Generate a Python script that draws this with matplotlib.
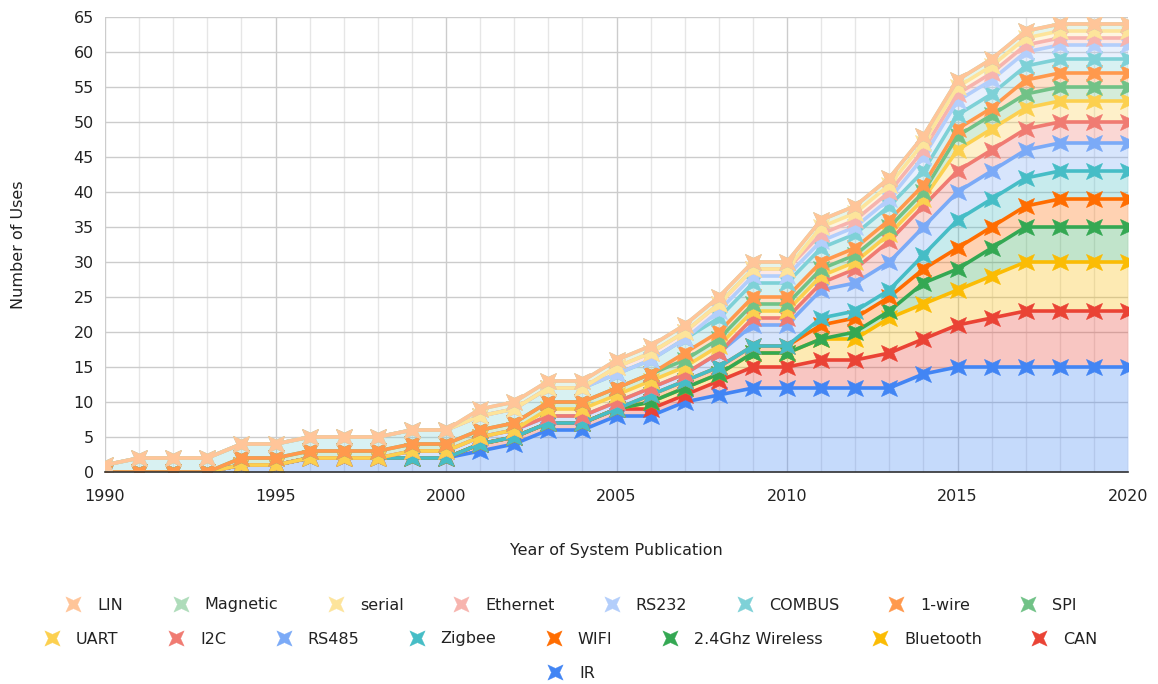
import matplotlib
matplotlib.use("Agg")
import matplotlib.pyplot as plt
import numpy as np
from matplotlib.lines import Line2D
from matplotlib.path import Path
from matplotlib.ticker import MultipleLocator

years = list(range(1990, 2021))

# series values (stacked bottom -> top)
ir       = [0,0,0,0,1,1,2,2,2,2,2,3,4,6,6,8,8,10,11,12,12,12,12,12,14,15,15,15,15,15,15]
can      = [0,0,0,0,0,0,0,0,0,0,0,1,1,1,1,1,1,1,2,3,3,4,4,5,5,6,7,8,8,8,8]
bluetooth= [0,0,0,0,0,0,0,0,0,0,0,0,0,0,0,0,1,1,1,2,2,3,3,5,5,5,6,7,7,7,7]
wireless = [0,0,0,0,0,0,0,0,0,0,0,0,0,0,0,0,0,0,0,0,0,0,1,1,3,3,4,5,5,5,5]
wifi     = [0,0,0,0,0,0,0,0,0,0,0,0,0,0,0,0,1,1,1,1,1,2,2,2,2,3,3,3,4,4,4]
zigbee   = [0,0,0,0,0,0,0,0,0,0,0,0,0,0,0,0,0,0,0,0,0,1,1,1,2,4,4,4,4,4,4]
rs485    = [0,0,0,0,0,0,0,0,0,1,1,1,1,1,1,1,1,1,2,3,3,4,4,4,4,4,4,4,4,4,4]
i2c      = [0,0,0,0,0,0,0,0,0,0,0,0,0,0,0,0,0,0,0,1,1,1,2,3,3,3,3,3,3,3,3]
uart     = [0,0,0,0,0,0,0,0,0,0,0,0,0,1,1,1,1,1,1,1,1,1,1,1,1,3,3,3,3,3,3]
spi      = [0,0,0,0,1,1,1,1,1,1,1,1,1,1,1,1,1,1,1,1,1,1,1,1,1,2,2,2,2,2,2]
onewire  = [0,0,0,0,0,0,0,0,0,0,0,0,0,0,0,0,0,1,1,1,1,1,1,1,1,1,1,2,2,2,2]
combus   = [1,2,2,2,2,2,2,2,2,2,2,2,2,2,2,2,2,2,2,2,2,2,2,2,2,2,2,2,2,2,2]
rs232    = [0,0,0,0,0,0,0,0,0,0,0,0,0,0,0,0,0,0,1,1,1,1,1,1,2,2,2,2,2,2,2]
ethernet = [0,0,0,0,0,0,0,0,0,0,0,0,0,0,0,1,1,1,1,1,1,1,1,1,1,1,1,1,1,1,1]
serial   = [0,0,0,0,0,0,0,0,0,0,0,0,0,0,0,0,0,0,0,0,0,1,1,1,1,1,1,1,1,1,1]
magnetic = [0,0,0,0,0,0,0,0,0,0,0,1,1,1,1,1,1,1,1,1,1,1,1,1,1,1,1,1,1,1,1]
lin      = [0,0,0,0,0,0,0,0,0,0,0,0,0,0,0,0,0,0,0,0,0,0,0,0,0,0,0,0,0,0,0]

names = ["IR", "CAN", "Bluetooth", "2.4Ghz Wireless", "WIFI", "Zigbee", "RS485",
         "I2C", "UART", "SPI", "1-wire", "COMBUS", "RS232", "Ethernet", "serial",
         "Magnetic", "LIN"]
values = [ir, can, bluetooth, wireless, wifi, zigbee, rs485, i2c, uart, spi,
          onewire, combus, rs232, ethernet, serial, magnetic, lin]
colors = ["#4285F4", "#EA4335", "#FBBC04", "#34A853", "#FF6D01", "#46BDC6",
          "#7BAAF7", "#F07B72", "#FCD04F", "#71C287", "#FF994D", "#7ED1D7",
          "#B3CEFB", "#F7B4AE", "#FDE49B", "#AEDCBA", "#FFC599"]

x = np.array(years)
data = np.array(values, dtype=float)
cum = np.cumsum(data, axis=0)
base = np.vstack([np.zeros(len(years)), cum[:-1]])

# 4-pointed star rotated 45 degrees (X-like)
verts = []
for k in range(8):
    ang = np.deg2rad(45 + 45 * k)
    r = 1.0 if k % 2 == 0 else 0.38
    verts.append((r * np.cos(ang), r * np.sin(ang)))
verts.append(verts[0])
codes = [Path.MOVETO] + [Path.LINETO] * 7 + [Path.CLOSEPOLY]
star = Path(verts, codes)

fig = plt.figure(figsize=(11.58, 6.84), dpi=100)
ax = fig.add_axes([105/1158, 1-472/684, (1128-105)/1158, (472-17)/684])

for i in range(len(names)):
    ax.fill_between(x, base[i], cum[i], color=colors[i], alpha=0.3, linewidth=0, zorder=2)
for i in range(len(names)):
    ax.plot(x, cum[i], color=colors[i], linewidth=2.6, marker=star, markersize=11.5,
            markeredgewidth=0.5, markeredgecolor=colors[i], zorder=3 + i * 0.01)

ax.set_xlim(1990, 2020)
ax.set_ylim(0, 65)
ax.xaxis.set_major_locator(MultipleLocator(5))
ax.xaxis.set_minor_locator(MultipleLocator(1))
ax.yaxis.set_major_locator(MultipleLocator(5))
ax.grid(which="major", axis="both", color="#cccccc", linewidth=1.0, zorder=0)
ax.grid(which="minor", axis="x", color="#e6e6e6", linewidth=1.0, zorder=0)
ax.set_axisbelow(True)
for s in ["top", "right", "left"]:
    ax.spines[s].set_visible(False)
ax.spines["bottom"].set_color("#333333")
ax.spines["bottom"].set_linewidth(1.2)
ax.spines["bottom"].set_zorder(10)
ax.tick_params(which="both", length=0, labelsize=11.5, colors="#222222")
ax.tick_params(axis="x", pad=12)
ax.tick_params(axis="y", pad=8)

ax.set_xlabel("Year of System Publication", fontsize=11.5, color="#222222", labelpad=28)
ax.set_ylabel("Number of Uses", fontsize=11.5, color="#222222", labelpad=34)

handles = {n: Line2D([], [], marker=star, color=c, linestyle="None", markersize=11,
                     markeredgewidth=0.3)
           for n, c in zip(names, colors)}
rows = [["LIN", "Magnetic", "serial", "Ethernet", "RS232", "COMBUS", "1-wire", "SPI"],
        ["UART", "I2C", "RS485", "Zigbee", "WIFI", "2.4Ghz Wireless", "Bluetooth", "CAN"],
        ["IR"]]
ys = [1 - 605/684, 1 - 639/684, 1 - 673/684]
for row, yy in zip(rows, ys):
    leg = fig.legend([handles[n] for n in row], row, loc="center",
                     bbox_to_anchor=(0.493, yy), ncol=len(row), frameon=False,
                     fontsize=11.5, handlelength=1.0, handletextpad=1.0,
                     columnspacing=3.1, borderpad=0, borderaxespad=0)
    for t in leg.get_texts():
        t.set_color("#222222")

fig.savefig("out.png", dpi=100)
